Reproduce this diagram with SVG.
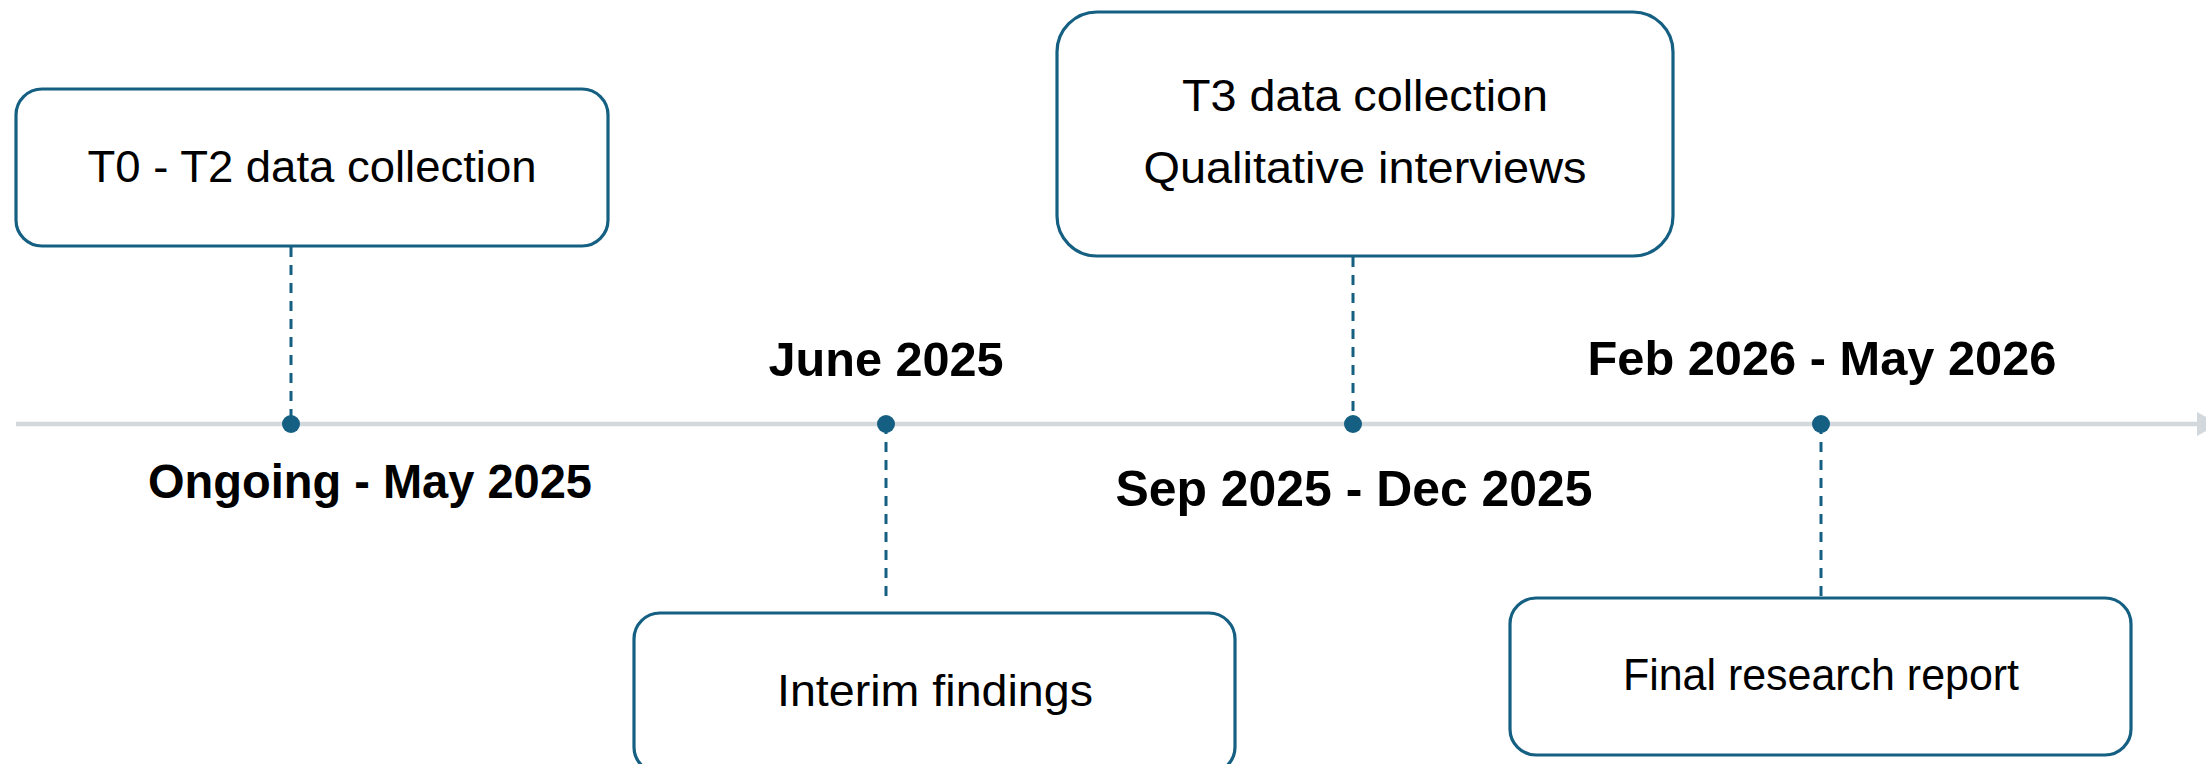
<svg xmlns="http://www.w3.org/2000/svg" width="2206" height="764" viewBox="0 0 2206 764">
  <style>
    .box { fill: #ffffff; stroke: #156082; stroke-width: 3.2; }
    .txt { font-family: "Liberation Sans", Arial, sans-serif; font-size: 45px; fill: #000000; text-anchor: middle; }
    .date { font-family: "Liberation Sans", Arial, sans-serif; font-size: 48px; font-weight: bold; fill: #000000; text-anchor: middle; }
    .dash { stroke: #156082; stroke-width: 3; stroke-dasharray: 10 8; fill: none; }
    .dot { fill: #156082; }
    .axis { stroke: #d3d8dd; stroke-width: 4.5; fill: none; }
  </style>
  <defs>
    <marker id="arrow" markerUnits="userSpaceOnUse" markerWidth="24" markerHeight="26" refX="2" refY="13" orient="auto">
      <path d="M2,1 L24,13 L2,25 Z" fill="#d3d8dd"/>
    </marker>
  </defs>
  <rect width="2206" height="764" fill="#ffffff"/>

  <g id="connectors">
    <line class="axis" x1="16" y1="424" x2="2197" y2="424" marker-end="url(#arrow)"/>
    <line class="dash" x1="291" y1="247" x2="291" y2="424"/>
    <line class="dash" x1="886" y1="424" x2="886" y2="598"/>
    <line class="dash" x1="1353" y1="257" x2="1353" y2="424"/>
    <line class="dash" x1="1821" y1="424" x2="1821" y2="598"/>
    <circle class="dot" cx="291" cy="424" r="9"/>
    <circle class="dot" cx="886" cy="424" r="9"/>
    <circle class="dot" cx="1353" cy="424" r="9"/>
    <circle class="dot" cx="1821" cy="424" r="9"/>
  </g>

  <g id="node-t0t2">
    <rect class="box" x="16" y="89" width="592" height="157" rx="26" ry="26"/>
    <text class="txt" x="312" y="182" textLength="449" lengthAdjust="spacingAndGlyphs">T0 - T2 data collection</text>
  </g>
  <g id="date-ongoing">
    <text class="date" x="370" y="498" textLength="444" lengthAdjust="spacingAndGlyphs">Ongoing - May 2025</text>
  </g>

  <g id="date-june">
    <text class="date" x="886" y="376" textLength="235" lengthAdjust="spacingAndGlyphs">June 2025</text>
  </g>
  <g id="node-interim">
    <rect class="box" x="634" y="613" width="601" height="160" rx="26" ry="26"/>
    <text class="txt" x="935" y="706" textLength="316" lengthAdjust="spacingAndGlyphs">Interim findings</text>
  </g>

  <g id="node-t3">
    <rect class="box" x="1057" y="12" width="616" height="244" rx="40" ry="40"/>
    <text class="txt" x="1365" y="111" textLength="366" lengthAdjust="spacingAndGlyphs">T3 data collection</text>
    <text class="txt" x="1365" y="183" textLength="443" lengthAdjust="spacingAndGlyphs">Qualitative interviews</text>
  </g>
  <g id="date-sep">
    <text class="date" x="1354" y="506" style="font-size:50px" textLength="477" lengthAdjust="spacingAndGlyphs">Sep 2025 - Dec 2025</text>
  </g>

  <g id="date-feb">
    <text class="date" x="1822" y="375" textLength="469" lengthAdjust="spacingAndGlyphs">Feb 2026 - May 2026</text>
  </g>
  <g id="node-final">
    <rect class="box" x="1510" y="598" width="621" height="157" rx="26" ry="26"/>
    <text class="txt" x="1821" y="690" textLength="396" lengthAdjust="spacingAndGlyphs">Final research report</text>
  </g>
</svg>
